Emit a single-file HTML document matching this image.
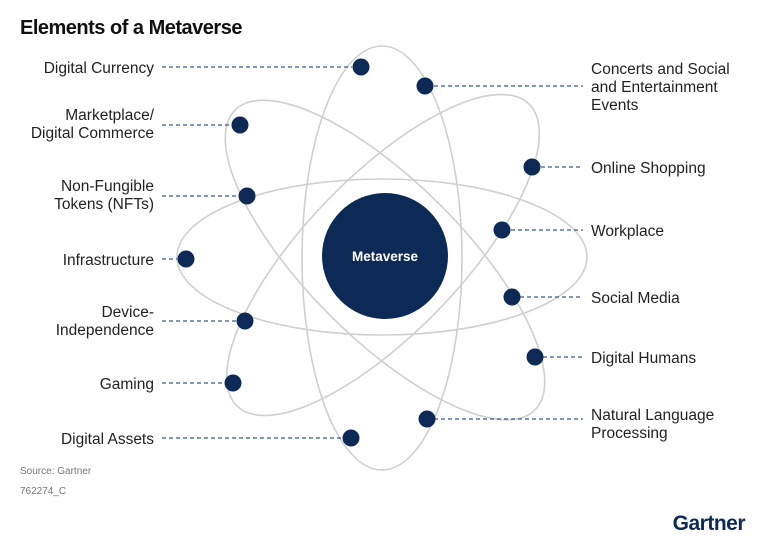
<!DOCTYPE html>
<html><head><meta charset="utf-8"><style>
body{margin:0;background:#fff;width:758px;height:539px;overflow:hidden;font-family:"Liberation Sans",sans-serif;}
</style></head><body>
<svg width="758" height="539" viewBox="0 0 758 539" xmlns="http://www.w3.org/2000/svg" font-family="Liberation Sans, sans-serif">
<text x="20" y="34" font-size="20" font-weight="bold" fill="#111" letter-spacing="-0.5">Elements of a Metaverse</text>
<g fill="none" stroke="#cfcfcf" stroke-width="1.6">
<ellipse cx="382" cy="257" rx="205" ry="78"/>
<ellipse cx="382" cy="258" rx="80" ry="212"/>
<ellipse cx="385" cy="260" rx="212" ry="78" transform="rotate(45 385 260)"/>
<ellipse cx="383" cy="255" rx="210" ry="78" transform="rotate(-46 383 255)"/>
</g>
<circle cx="385" cy="256" r="63" fill="#0d2a57"/>
<text x="385" y="261" font-size="13.5" font-weight="bold" fill="#fff" text-anchor="middle">Metaverse</text>
<g stroke="#3a5a85" stroke-width="1.2" stroke-dasharray="4,3">
<line x1="162" y1="67" x2="352" y2="67"/>
<line x1="162" y1="125" x2="232" y2="125"/>
<line x1="162" y1="196" x2="238" y2="196"/>
<line x1="162" y1="259" x2="177" y2="259"/>
<line x1="162" y1="321" x2="237" y2="321"/>
<line x1="162" y1="383" x2="224" y2="383"/>
<line x1="162" y1="438" x2="342" y2="438"/>
<line x1="434" y1="86" x2="583" y2="86"/>
<line x1="541" y1="167" x2="583" y2="167"/>
<line x1="511" y1="230" x2="583" y2="230"/>
<line x1="520" y1="297" x2="583" y2="297"/>
<line x1="543" y1="357" x2="583" y2="357"/>
<line x1="434" y1="419" x2="583" y2="419"/>
</g>
<g fill="#0d2a57">
<circle cx="361" cy="67" r="8.5"/><circle cx="240" cy="125" r="8.5"/><circle cx="247" cy="196" r="8.5"/>
<circle cx="186" cy="259" r="8.5"/><circle cx="245" cy="321" r="8.5"/><circle cx="233" cy="383" r="8.5"/>
<circle cx="351" cy="438" r="8.5"/><circle cx="425" cy="86" r="8.5"/><circle cx="532" cy="167" r="8.5"/>
<circle cx="502" cy="230" r="8.5"/><circle cx="512" cy="297" r="8.5"/><circle cx="535" cy="357" r="8.5"/>
<circle cx="427" cy="419" r="8.5"/>
</g>
<g font-size="15.5" fill="#222" text-anchor="end">
<text x="154" y="73">Digital Currency</text>
<text x="154" y="120">Marketplace/</text><text x="154" y="138">Digital Commerce</text>
<text x="154" y="191">Non-Fungible</text><text x="154" y="209">Tokens (NFTs)</text>
<text x="154" y="265">Infrastructure</text>
<text x="154" y="317">Device-</text><text x="154" y="335">Independence</text>
<text x="154" y="389">Gaming</text>
<text x="154" y="444">Digital Assets</text>
</g>
<g font-size="15.5" fill="#222">
<text x="591" y="74">Concerts and Social</text><text x="591" y="92">and Entertainment</text><text x="591" y="110">Events</text>
<text x="591" y="173">Online Shopping</text>
<text x="591" y="236">Workplace</text>
<text x="591" y="303">Social Media</text>
<text x="591" y="363">Digital Humans</text>
<text x="591" y="420">Natural Language</text><text x="591" y="438">Processing</text>
</g>
<text x="20" y="474" font-size="10" fill="#777">Source: Gartner</text>
<text x="20" y="494" font-size="10" fill="#777">762274_C</text>
<text x="745" y="530" font-size="21" font-weight="bold" fill="#0d2a57" text-anchor="end" letter-spacing="-0.5">Gartner</text>
</svg>
</body></html>
